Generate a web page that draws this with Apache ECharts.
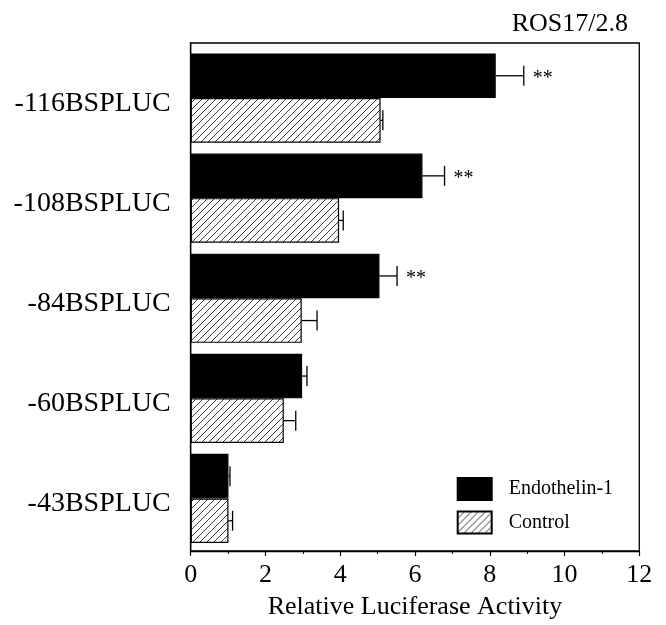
<!DOCTYPE html>
<html>
<head>
<meta charset="utf-8">
<script src="https://cdn.jsdelivr.net/npm/echarts@6/dist/echarts.min.js"></script>
<style>
html,body{margin:0;padding:0;background:#fff;}
#c{width:666px;height:625px;}
</style>
</head>
<body>
<div id="c"></div>
<script>
var categories = ['-116BSPLUC', '-108BSPLUC', '-84BSPLUC', '-60BSPLUC', '-43BSPLUC'];
var endothelin = [8.16, 6.20, 5.05, 2.98, 1.01];
var endothelinErr = [0.75, 0.59, 0.47, 0.13, 0.04];
var control = [5.08, 3.97, 2.97, 2.49, 1.01];
var controlErr = [0.06, 0.11, 0.41, 0.32, 0.11];
var significance = ['**', '**', '**', '', ''];
var xTicks = [0, 2, 4, 6, 8, 10, 12];

var FONT = 'Liberation Serif';
var BAR_W = 44.6;

function makeHatch() {
  var s = 7;
  var cv = document.createElement('canvas');
  cv.width = s; cv.height = s;
  var ctx = cv.getContext('2d');
  ctx.fillStyle = '#fff';
  ctx.fillRect(0, 0, s, s);
  ctx.strokeStyle = '#222';
  ctx.lineWidth = 0.9;
  ctx.beginPath();
  ctx.moveTo(-1, s + 1); ctx.lineTo(s + 1, -1);
  ctx.moveTo(-1 - s, s + 1); ctx.lineTo(1, -1);
  ctx.moveTo(s - 1, s + 1); ctx.lineTo(2 * s + 1, -1);
  ctx.stroke();
  return cv;
}
var hatch = {image: makeHatch(), repeat: 'repeat'};

function errData(vals, errs) {
  return vals.map(function (v, i) { return [v, i, errs[i]]; });
}

function errRenderer(side, withSig) {
  return function (params, api) {
    var v = api.value(0), idx = api.value(1), e = api.value(2);
    var p0 = api.coord([v, idx]);
    var p1 = api.coord([v + e, idx]);
    var y = p0[1] + side * BAR_W / 2;
    var children = [
      {type: 'line', shape: {x1: p0[0], y1: y, x2: p1[0], y2: y}, style: {stroke: '#000', lineWidth: 1.3}},
      {type: 'line', shape: {x1: p1[0], y1: y - 10, x2: p1[0], y2: y + 10}, style: {stroke: '#000', lineWidth: 1.3}}
    ];
    if (withSig && significance[params.dataIndex]) {
      children.push({type: 'text', x: p1[0] + 9, y: y + 3,
        style: {text: significance[params.dataIndex], fill: '#000', font: '20px "' + FONT + '"', align: 'left', verticalAlign: 'middle'}});
    }
    return {type: 'group', children: children};
  };
}

var chart = echarts.init(document.getElementById('c'), null, {renderer: 'canvas'});
chart.setOption({
  animation: false,
  backgroundColor: '#fff',
  title: {
    text: 'ROS17/2.8', right: 33, top: 6,
    textStyle: {fontFamily: FONT, fontSize: 26, fontWeight: 'normal', color: '#000'}
  },
  legend: {
    orient: 'vertical', left: 456.7, top: 477, itemWidth: 34, itemHeight: 22, itemGap: 9.4,
    padding: 0, icon: 'rect',
    data: ['Endothelin-1', 'Control'],
    textStyle: {fontFamily: FONT, fontSize: 20, color: '#000', padding: [0, 0, 0, 12]}
  },
  grid: [
    {left: 190.7, right: 26.7, top: 43, bottom: 72.3, show: true, borderColor: '#000', borderWidth: 1.3},
    {left: 190.7, right: 26.7, top: 48, bottom: 76.5, show: false},
    {left: 190.7, right: 26.7, top: 53.5, bottom: 71, show: false}
  ],
  xAxis: [
    {
      gridIndex: 0, type: 'value', min: 0, max: 12, interval: 2,
      name: 'Relative Luciferase Activity', nameLocation: 'middle', nameGap: 43,
      nameTextStyle: {fontFamily: FONT, fontSize: 26, color: '#000'},
      axisLine: {show: true, lineStyle: {color: '#000', width: 1.3}},
      axisTick: {show: true, inside: false, length: 5, lineStyle: {color: '#000', width: 1.2}},
      minorTick: {show: true, splitNumber: 2, length: 3, lineStyle: {color: '#000', width: 1}},
      splitLine: {show: false},
      axisLabel: {fontFamily: FONT, fontSize: 26, color: '#000', margin: 11,
        formatter: function (v) { return xTicks.indexOf(v) >= 0 ? String(v) : ''; }}
    },
    {gridIndex: 1, type: 'value', min: 0, max: 12, interval: 2, show: false},
    {gridIndex: 2, type: 'value', min: 0, max: 12, interval: 2, show: false}
  ],
  yAxis: [
    {
      gridIndex: 0, type: 'category', data: categories, inverse: true,
      axisLine: {show: true, lineStyle: {color: '#000', width: 1.3}},
      axisTick: {show: false}, splitLine: {show: false}, axisLabel: {show: false}
    },
    {
      gridIndex: 1, type: 'category', data: categories, inverse: true,
      axisLine: {show: false}, axisTick: {show: false}, splitLine: {show: false}, axisLabel: {show: false}
    },
    {
      gridIndex: 2, type: 'category', data: categories, inverse: true,
      axisLine: {show: false}, axisTick: {show: false}, splitLine: {show: false},
      axisLabel: {fontFamily: FONT, fontSize: 28, color: '#000', margin: 20}
    }
  ],
  series: [
    {
      name: 'Endothelin-1', type: 'bar', xAxisIndex: 1, yAxisIndex: 1, data: endothelin,
      barWidth: BAR_W, barGap: '0%',
      itemStyle: {color: '#000', borderColor: '#000', borderWidth: 1.2}
    },
    {
      name: 'Control', type: 'bar', xAxisIndex: 1, yAxisIndex: 1, data: control,
      barWidth: BAR_W, barGap: '0%',
      itemStyle: {color: hatch, borderColor: '#000', borderWidth: 1.2}
    },
    {
      type: 'custom', name: 'errE', xAxisIndex: 1, yAxisIndex: 1, data: errData(endothelin, endothelinErr),
      encode: {x: 0, y: 1}, renderItem: errRenderer(-1, true), z: 5, silent: true
    },
    {
      type: 'custom', name: 'errC', xAxisIndex: 1, yAxisIndex: 1, data: errData(control, controlErr),
      encode: {x: 0, y: 1}, renderItem: errRenderer(1, false), z: 5, silent: true
    }
  ]
});
</script>
</body>
</html>
